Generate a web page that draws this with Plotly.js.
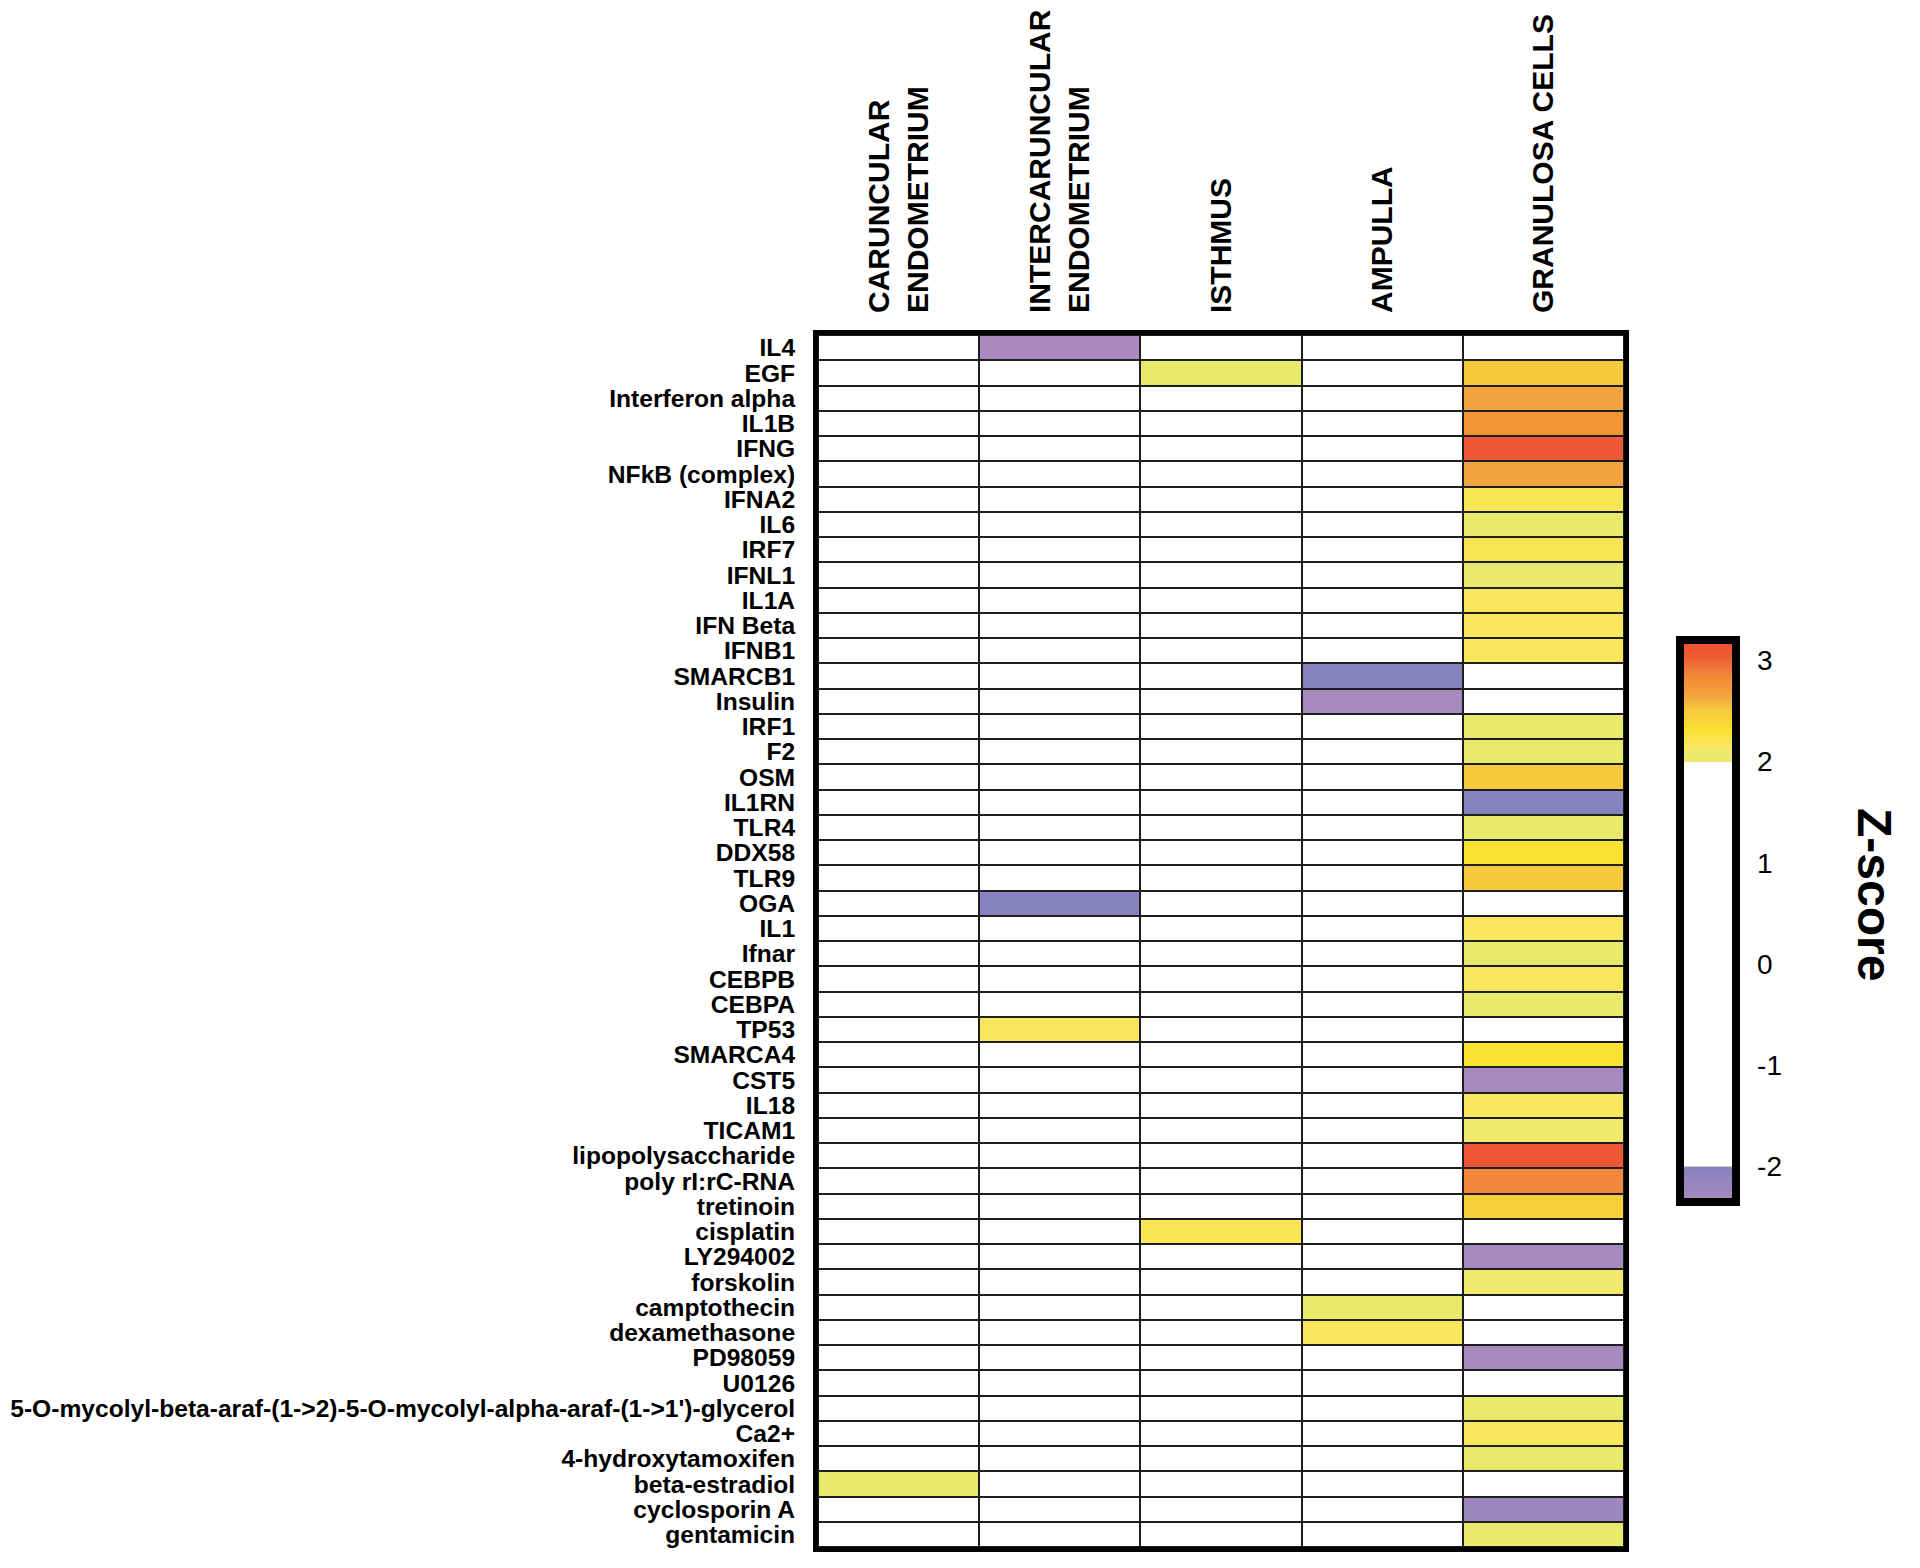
<!DOCTYPE html>
<html>
<head>
<meta charset="utf-8">
<script src="https://cdn.plot.ly/plotly-3.0.1.min.js"></script>
<style>
html,body{margin:0;padding:0;background:#fff;}
#chart{width:1920px;height:1568px;}
</style>
</head>
<body>
<div id="chart"></div>
<script>
// ---------- DATA ----------
const columns = [
  "CARUNCULAR<br>ENDOMETRIUM",
  "INTERCARUNCULAR<br>ENDOMETRIUM",
  "ISTHMUS",
  "AMPULLA",
  "GRANULOSA CELLS"
];

const rows = [
  "IL4","EGF","Interferon alpha","IL1B","IFNG","NFkB (complex)","IFNA2","IL6","IRF7","IFNL1",
  "IL1A","IFN Beta","IFNB1","SMARCB1","Insulin","IRF1","F2","OSM","IL1RN","TLR4",
  "DDX58","TLR9","OGA","IL1","Ifnar","CEBPB","CEBPA","TP53","SMARCA4","CST5",
  "IL18","TICAM1","lipopolysaccharide","poly rI:rC-RNA","tretinoin","cisplatin","LY294002","forskolin","camptothecin","dexamethasone",
  "PD98059","U0126","5-O-mycolyl-beta-araf-(1->2)-5-O-mycolyl-alpha-araf-(1->1')-glycerol","Ca2+","4-hydroxytamoxifen","beta-estradiol","cyclosporin A","gentamicin"
];

// z-scores per column (0 = not significant / white)
const caruncular = [
  0,0,0,0,0,0,0,0,0,0,
  0,0,0,0,0,0,0,0,0,0,
  0,0,0,0,0,0,0,0,0,0,
  0,0,0,0,0,0,0,0,0,0,
  0,0,0,0,0,2.05,0,0
];
const intercaruncular = [
  -2.35,0,0,0,0,0,0,0,0,0,
  0,0,0,0,0,0,0,0,0,0,
  0,0,-2.0,0,0,0,0,2.15,0,0,
  0,0,0,0,0,0,0,0,0,0,
  0,0,0,0,0,0,0,0
];
const isthmus = [
  0,2.05,0,0,0,0,0,0,0,0,
  0,0,0,0,0,0,0,0,0,0,
  0,0,0,0,0,0,0,0,0,0,
  0,0,0,0,0,2.2,0,0,0,0,
  0,0,0,0,0,0,0,0
];
const ampulla = [
  0,0,0,0,0,0,0,0,0,0,
  0,0,0,-2.0,-2.3,0,0,0,0,0,
  0,0,0,0,0,0,0,0,0,0,
  0,0,0,0,0,0,0,0,2.05,2.15,
  0,0,0,0,0,0,0,0
];
const granulosa = [
  0,2.5,2.65,2.75,3.1,2.65,2.2,2.05,2.2,2.05,
  2.15,2.15,2.15,0,0,2.05,2.05,2.5,-2.0,2.05,
  2.3,2.5,0,2.15,2.05,2.15,2.05,0,2.3,-2.3,
  2.15,2.1,3.1,2.85,2.45,0,-2.3,2.1,0,0,
  -2.3,0,2.05,2.15,2.05,0,-2.2,2.05
];

const colorbarTicks = [-2,-1,0,1,2,3];
const colorbarTickText = ["-2","-1","0","1","2","3"];

// ---------- STYLE ----------
const ZMIN = -2.35, ZMAX = 3.2;
const colorStops = [
  [-2.35, "#ab8bbf"],
  [-2.0,  "#8781bd"],
  [-1.999,"#ffffff"],
  [1.999, "#ffffff"],
  [2.0,   "#e9e872"],
  [2.05,  "#e8e86c"],
  [2.1,   "#f1e96c"],
  [2.15,  "#f8e65c"],
  [2.2,   "#f9e553"],
  [2.3,   "#fbe232"],
  [2.45,  "#f7d03a"],
  [2.5,   "#f6ca3c"],
  [2.65,  "#f2a53e"],
  [2.75,  "#f49434"],
  [2.85,  "#f3863a"],
  [3.05,  "#ee5a34"],
  [3.2,   "#ee5033"]
];
const colorscale = colorStops.map(s => [(s[0]-ZMIN)/(ZMAX-ZMIN), s[1]]);
colorscale[0][0] = 0; colorscale[colorscale.length-1][0] = 1;

const colsData = [caruncular, intercaruncular, isthmus, ampulla, granulosa];
const z = rows.map((r, i) => colsData.map(c => c[i]));

const FONT = "Liberation Sans, Arial, Helvetica, sans-serif";

// geometry
const W = 1920, H = 1568;
const M = {l: 818, r: 296, t: 335, b: 21};
const plotW = W - M.l - M.r, plotH = H - M.t - M.b;
const CB = {left: 1680, top: 640, thick: 56, len: 562, outline: 8};
const pxToPaperX = px => (px - M.l) / plotW;
const pxToPaperY = py => (H - M.b - py) / plotH;

const trace = {
  type: "heatmap",
  x: columns,
  y: rows,
  z: z,
  zmin: ZMIN,
  zmax: ZMAX,
  colorscale: colorscale,
  xgap: 2,
  ygap: 2,
  hoverinfo: "x+y+z",
  colorbar: {
    thickness: CB.thick, thicknessmode: "pixels",
    len: CB.len, lenmode: "pixels",
    x: pxToPaperX(CB.left), xanchor: "left", xpad: 0,
    y: pxToPaperY(CB.top), yanchor: "top", ypad: 0,
    outlinewidth: CB.outline, outlinecolor: "#000",
    tickmode: "array",
    tickvals: colorbarTicks, ticktext: colorbarTickText,
    ticks: "outside", ticklen: 12, tickcolor: "rgba(0,0,0,0)",
    tickfont: {family: FONT, size: 28, color: "#000"}
  }
};

const layout = {
  width: W, height: H,
  paper_bgcolor: "#ffffff",
  plot_bgcolor: "#1e1e1e",
  margin: {l: M.l, r: M.r, t: M.t, b: M.b, pad: 0},
  xaxis: {
    type: "category", side: "top",
    tickmode: "array", tickvals: columns, ticktext: columns,
    tickangle: -90,
    tickfont: {family: FONT, size: 30, color: "#000", weight: "bold"},
    ticks: "outside", ticklen: 11, tickcolor: "rgba(0,0,0,0)",
    showline: true, linewidth: 5, linecolor: "#000", mirror: true,
    showgrid: false, zeroline: false, fixedrange: true
  },
  yaxis: {
    type: "category", autorange: "reversed",
    tickmode: "array", tickvals: rows, ticktext: rows,
    tickfont: {family: FONT, size: 24.6, color: "#000", weight: "bold"},
    ticks: "outside", ticklen: 13, tickcolor: "rgba(0,0,0,0)",
    showline: true, linewidth: 5, linecolor: "#000", mirror: true,
    showgrid: false, zeroline: false, fixedrange: true
  },
  annotations: [{
    text: "Z-score",
    xref: "paper", yref: "paper",
    x: pxToPaperX(1875), y: pxToPaperY(894),
    xanchor: "center", yanchor: "middle",
    textangle: 90, showarrow: false,
    font: {family: FONT, size: 48, color: "#000", weight: "bold"}
  }]
};

Plotly.newPlot("chart", [trace], layout, {displayModeBar: false, staticPlot: true});
</script>
</body>
</html>
